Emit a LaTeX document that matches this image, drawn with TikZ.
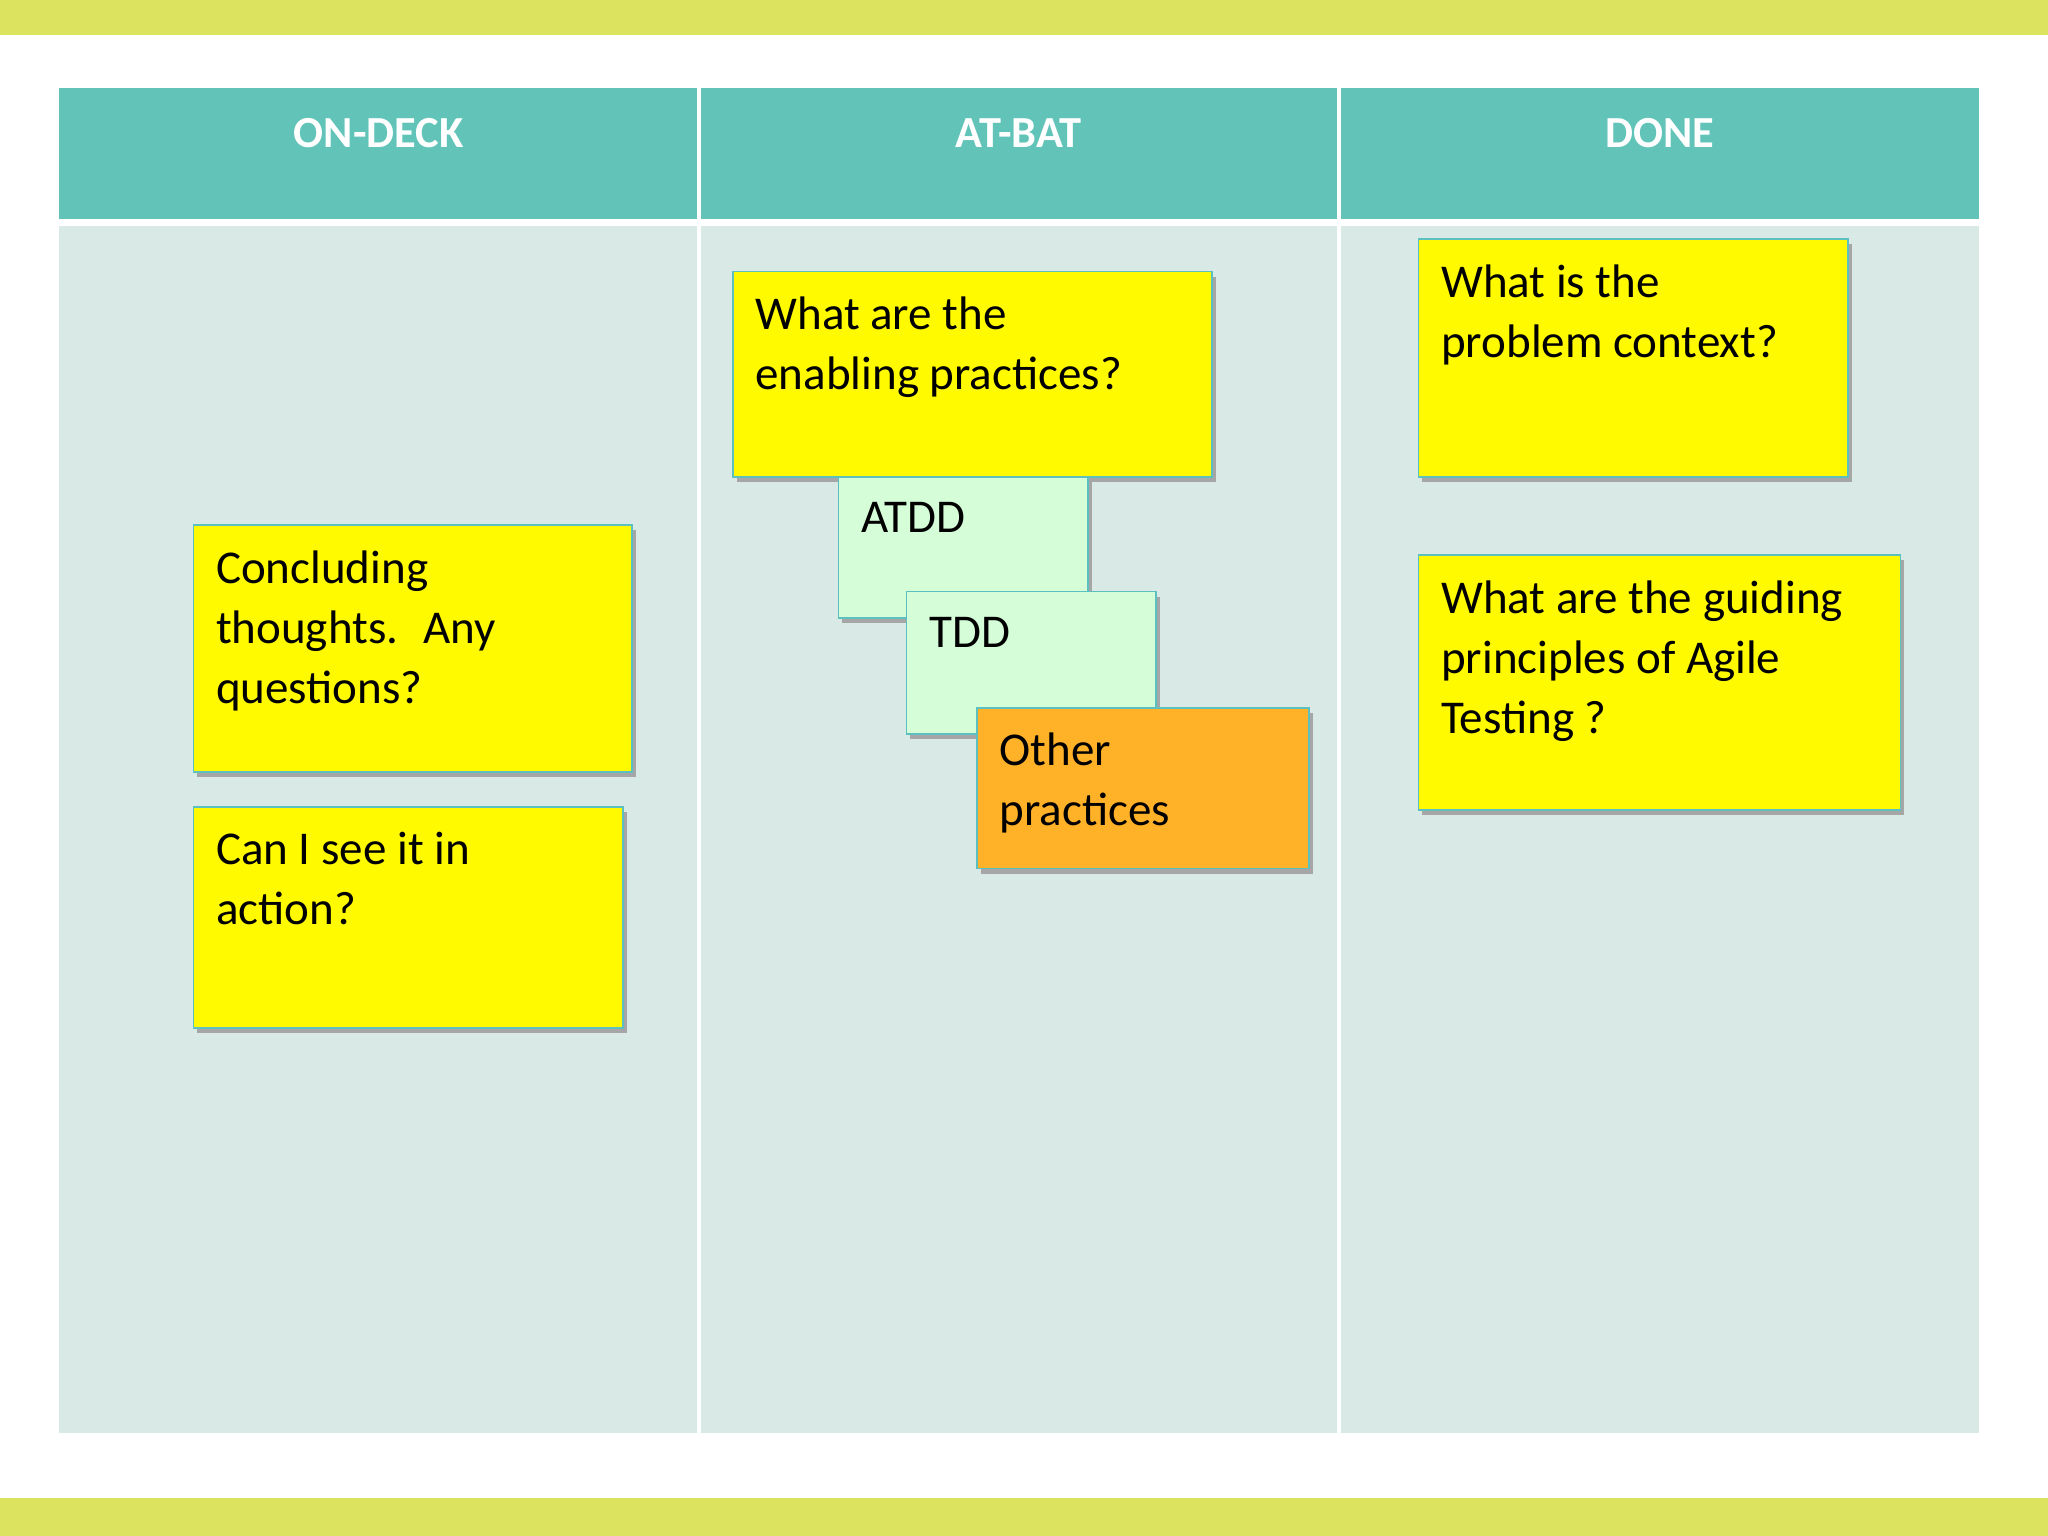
\documentclass[tikz,border=0pt]{standalone}
\usepackage{fontspec}
\setmainfont{Carlito}
\definecolor{barc}{HTML}{DCE35F}
\definecolor{headc}{HTML}{62C4B8}
\definecolor{bodyc}{HTML}{D9EAE6}
\definecolor{yel}{HTML}{FFFA00}
\definecolor{grn}{HTML}{D5FDD8}
\definecolor{org}{HTML}{FFB128}
\definecolor{edge}{HTML}{5CC0C0}
\begin{document}
\begin{tikzpicture}[x=0.5pt,y=-0.5pt,
  sticky/.style={draw=edge,line width=0.6pt},
  shad/.style={fill=black!35,draw=none},
  stxt/.style={anchor=north west,align=left,inner sep=0pt,font=\fontsize{18}{23}\selectfont},
  htxt/.style={text=white,font=\bfseries\fontsize{17}{20}\selectfont}]
\useasboundingbox (0,0) rectangle (1568,1176);
\fill[white] (0,0) rectangle (1568,1176);
\fill[barc] (0,0) rectangle (1568,27);
\fill[barc] (0,1147) rectangle (1568,1176);
\fill[headc] (45,67) rectangle (1515,168);
\fill[bodyc] (45,173) rectangle (1515,1097);
\draw[white,line width=1.5pt] (535,67) -- (535,1097);
\draw[white,line width=1.5pt] (1025,67) -- (1025,1097);
\node[htxt] (h1) at (290,102) {ON-DECK};
\node[htxt] (h2) at (780,102) {AT-BAT};
\node[htxt] (h3) at (1271,102) {DONE};
% stickies
\newcommand{\stick}[6]{%
 \fill[shad] (#1+3,#2+4) rectangle (#3+3,#4+4);
 \filldraw[sticky,fill=#5] (#1,#2) rectangle (#3,#4);
 \node[stxt] (#6) at (#1+17,#2+19)}
\stick{148}{402}{484}{591}{yel}{s1} {Concluding\\thoughts.~ Any\\questions?};
\stick{148}{618}{477}{787}{yel}{s2} {Can I see it in\\action?};
\stick{561}{208}{928}{365}{yel}{s3} {What are the\\enabling practices?};
\stick{642}{365}{833}{473}{grn}{s4} {ATDD};
\stick{694}{453}{885}{562}{grn}{s5} {TDD};
\stick{748}{542}{1002}{665}{org}{s6} {Other\\practices};
\stick{1086}{183}{1415}{365}{yel}{s7} {What is the\\problem context?};
\stick{1086}{425}{1455}{620}{yel}{s8} {What are the guiding\\principles of Agile\\Testing ?};
\end{tikzpicture}
\end{document}
